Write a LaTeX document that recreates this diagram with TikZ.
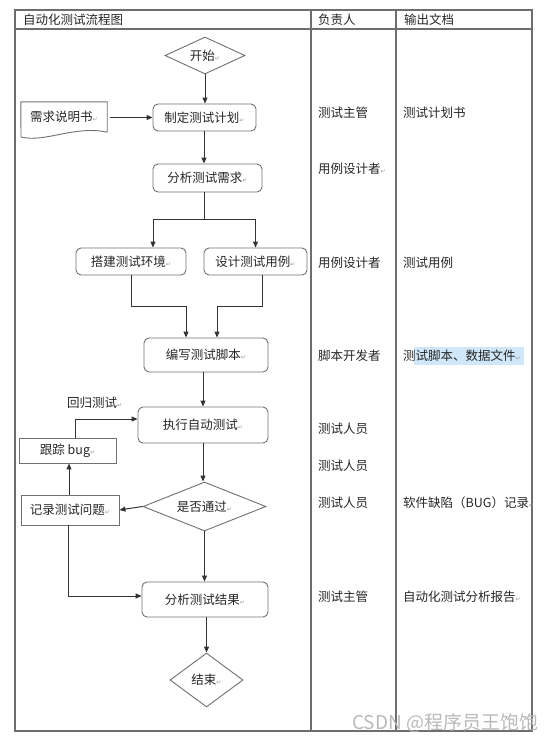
\documentclass[tikz,border=0pt]{standalone}
\usepackage{fontspec}
\setmainfont{Noto Sans CJK SC}
\newfontfamily\symfont{DejaVu Sans}
\usetikzlibrary{positioning, calc, shapes.geometric, arrows.meta}
\definecolor{linegray}{HTML}{6E6E6E}
\definecolor{boxgray}{HTML}{707070}
\definecolor{inkgray}{HTML}{333333}
\definecolor{marklight}{HTML}{CFE7F8}
\newcommand{\retmark}{{\symfont\fontsize{6}{6}\selectfont\color{gray!80}↵}}

\begin{document}
\begin{tikzpicture}[x=1pt, y=-1pt,
    txt/.style={font=\fontsize{12.5}{14}\selectfont, text=black!85, inner sep=0pt},
    stepbox/.style={txt, draw=boxgray, line width=0.9pt, rounded corners=5pt},
    plainbox/.style={txt, draw=boxgray, line width=0.9pt},
    decision/.style={txt, diamond, aspect=2, draw=boxgray, line width=0.9pt},
    flow/.style={draw=inkgray, line width=1pt, -{Triangle[length=6pt, width=5pt]}},
    grid/.style={draw=linegray, line width=1.3pt}]

\useasboundingbox (0,0) rectangle (558,742);

% Table frame and header
\begin{scope}
    \draw[grid] (15,10) rectangle (532,731);
    \draw[grid] (15,29) -- (532,29);
    \draw[grid] (311,10) -- (311,731);
    \draw[grid] (396,10) -- (396,731);
    \node[txt, anchor=west] (hflow) at (23,20) {自动化测试流程图};
    \node[txt, anchor=west] (howner) at (318,20) {负责人};
    \node[txt, anchor=west] (hout) at (404,20) {输出文档};
\end{scope}

% Column 1: flow chart
\begin{scope}
    \node[decision, minimum width=80pt, minimum height=37pt] (start) at (205,55.5) {开始\retmark};

    \node[txt, minimum width=86pt, minimum height=30pt] (req) at (64,117) {需求说明书\retmark};
    \draw[draw=boxgray, line width=0.9pt] (req.south east) -- (req.north east) -- (req.north west)
        -- (21,137) .. controls (45,143) and (75,125) .. (req.south east);

    \node[stepbox, minimum width=103pt, minimum height=27pt] (plan) at (204.5,117.5) {制定测试计划\retmark};
    \node[stepbox, minimum width=109pt, minimum height=28pt] (analyze) at (207.5,178) {分析测试需求\retmark};
    \coordinate (split) at (204,219);
    \node[stepbox, minimum width=110pt, minimum height=27pt] (env) at (131,261.5) {搭建测试环境\retmark};
    \node[stepbox, minimum width=103pt, minimum height=27pt] (design) at (255.5,261.5) {设计测试用例\retmark};
    \node[stepbox, minimum width=124pt, minimum height=34pt] (script) at (206,355) {编写测试脚本\retmark};
    \node[stepbox, minimum width=130pt, minimum height=36pt] (exec) at (203,425) {执行自动测试\retmark};
    \node[plainbox, minimum width=97pt, minimum height=25pt] (track) at (67.5,450.5) {跟踪 bug\retmark};
    \node[txt, anchor=west] (regress) at (67,403) {回归测试\retmark};
    \node[decision, minimum width=123pt, minimum height=49pt] (pass) at (204.5,506.5) {是否通过\retmark};
    \node[plainbox, minimum width=98pt, minimum height=30pt] (record) at (70,510) {记录测试问题\retmark};
    \node[stepbox, minimum width=126pt, minimum height=35pt] (result) at (205,599.5) {分析测试结果\retmark};
    \node[decision, minimum width=73pt, minimum height=54pt] (end) at (206.5,680) {结束\retmark};

    \draw[flow] (start.south) -- (start.south |- plan.north);
    \draw[flow, shorten <=3pt] (req.east |- plan.west) -- (plan.west);
    \draw[flow] (plan.south -| split) -- (analyze.north -| split);
    \draw[draw=inkgray, line width=1pt] (analyze.south -| split) -- (split);
    \draw[flow] (split) -| ([xshift=22pt]env.north);
    \draw[flow] (split) -| (design.north);
    \draw[flow] (env.south) -- ++(0,31) -| ([xshift=-20pt]script.north);
    \draw[flow] ([xshift=6.5pt]design.south) -- ++(0,31) -| ([xshift=11pt]script.north);
    \draw[flow] (script.south -| exec.north) -- (exec.north);
    \draw[flow] (exec.south) -- (exec.south |- pass.north);
    \draw[flow] (pass.west) -- (record.east);
    \draw[flow] ([xshift=-1pt]record.north) -- ([xshift=-1pt]record.north |- track.south);
    \draw[flow] ([xshift=7.5pt]track.north) |- ([yshift=6pt]exec.west);
    \draw[flow] ([xshift=-2pt]record.south) |- ([yshift=3.5pt]result.west);
    \draw[flow] (pass.south) -- (pass.south |- result.north);
    \draw[flow] (result.south -| end.north) -- (end.north);
\end{scope}

% Column 2: owners
\begin{scope}
    \node[txt, anchor=west] (own1) at (318,113) {测试主管};
    \node[txt, anchor=west] (own2) at (318,169) {用例设计者\retmark};
    \node[txt, anchor=west] (own3) at (318,263) {用例设计者};
    \node[txt, anchor=west] (own4) at (318,356) {脚本开发者};
    \node[txt, anchor=west] (own5) at (318,429) {测试人员};
    \node[txt, anchor=west] (own6) at (318,466) {测试人员};
    \node[txt, anchor=west] (own7) at (318,503) {测试人员};
    \node[txt, anchor=west] (own8) at (318,597) {测试主管};
\end{scope}

% Column 3: output documents
\begin{scope}
    \fill[marklight] (414,347) rectangle (524,365);
    \node[txt, anchor=west] (out1) at (403,113) {测试计划书};
    \node[txt, anchor=west] (out2) at (403,263) {测试用例};
    \node[txt, anchor=west] (out3) at (403,356) {测试脚本、数据文件\retmark};
    \node[txt, anchor=west] (out4) at (403,503) {软件缺陷（BUG）记录\retmark};
    \node[txt, anchor=west] (out5) at (403,597) {自动化测试分析报告\retmark};
\end{scope}

% Watermark
\node[font=\fontsize{19}{20}\selectfont, text=gray!55, anchor=west, inner sep=0pt] (wmark) at (352,723) {CSDN @程序员王饱饱};

\end{tikzpicture}
\end{document}
